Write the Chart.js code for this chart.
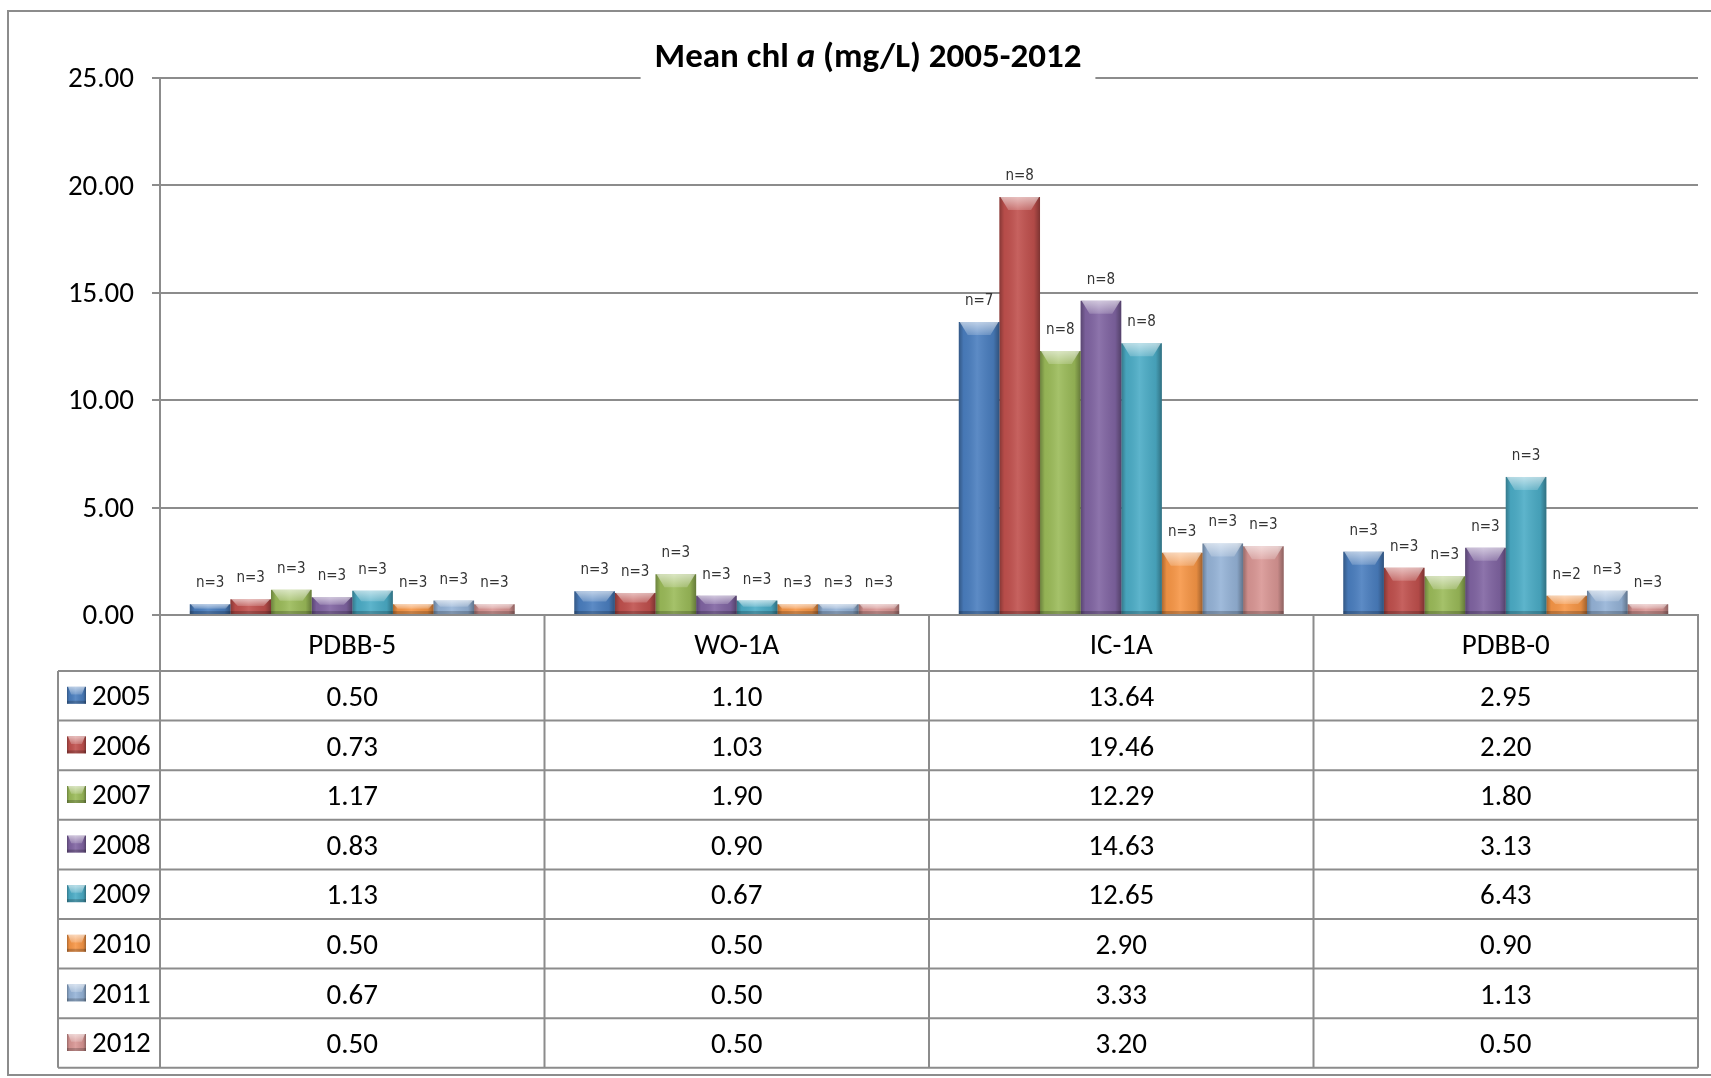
<!DOCTYPE html>
<html>
<head>
<meta charset="utf-8">
<title>Mean chl a (mg/L) 2005-2012</title>
<script src="https://cdn.jsdelivr.net/npm/chart.js@4.4.1/dist/chart.umd.min.js"></script>
<style>
  html, body { margin: 0; padding: 0; background: #fff; }
  canvas { display: block; }
</style>
</head>
<body>
<canvas id="chlChart" width="1711" height="1078"></canvas>
<script>
const categories = ['PDBB-5', 'WO-1A', 'IC-1A', 'PDBB-0'];
const years = ['2005', '2006', '2007', '2008', '2009', '2010', '2011', '2012'];

const chl2005 = [0.50, 1.10, 13.64, 2.95];
const chl2006 = [0.73, 1.03, 19.46, 2.20];
const chl2007 = [1.17, 1.90, 12.29, 1.80];
const chl2008 = [0.83, 0.90, 14.63, 3.13];
const chl2009 = [1.13, 0.67, 12.65, 6.43];
const chl2010 = [0.50, 0.50, 2.90, 0.90];
const chl2011 = [0.67, 0.50, 3.33, 1.13];
const chl2012 = [0.50, 0.50, 3.20, 0.50];

// sample counts shown above each bar
const n2005 = [3, 3, 7, 3];
const n2006 = [3, 3, 8, 3];
const n2007 = [3, 3, 8, 3];
const n2008 = [3, 3, 8, 3];
const n2009 = [3, 3, 8, 3];
const n2010 = [3, 3, 3, 2];
const n2011 = [3, 3, 3, 3];
const n2012 = [3, 3, 3, 3];

const yTicks = [0, 5, 10, 15, 20, 25];

const series = [chl2005, chl2006, chl2007, chl2008, chl2009, chl2010, chl2011, chl2012];
const counts = [n2005, n2006, n2007, n2008, n2009, n2010, n2011, n2012];
const colors = ['#4A7EBF', '#C0504D', '#9BBB59', '#8064A2', '#4BACC6', '#F79646', '#95B3D7', '#D99694'];

const FONT = 'Carlito, Lato, "Open Sans", sans-serif';
const GRID = '#8c8c8c';
const HEADER_H = 56;
const ROW_H = 49.6;
const TABLE_LEFT = 58;

// Excel-ish bevel on top of a flat rectangle
function bevel(ctx, left, top, w, h) {
    if (h <= 0) return;
    ctx.save();
    const g = ctx.createLinearGradient(left, 0, left + w, 0);
    g.addColorStop(0, 'rgba(0,0,0,0.30)');
    g.addColorStop(0.12, 'rgba(0,0,0,0.05)');
    g.addColorStop(0.45, 'rgba(255,255,255,0.10)');
    g.addColorStop(0.85, 'rgba(0,0,0,0.08)');
    g.addColorStop(1, 'rgba(0,0,0,0.35)');
    ctx.fillStyle = g;
    ctx.fillRect(left, top, w, h);
    const bh = Math.min(13, h * 0.45);
    const inset = Math.min(w * 0.22, bh * 1.1);
    const tg = ctx.createLinearGradient(0, top, 0, top + bh);
    tg.addColorStop(0, 'rgba(255,255,255,0.6)');
    tg.addColorStop(1, 'rgba(255,255,255,0.18)');
    ctx.fillStyle = tg;
    ctx.beginPath();
    ctx.moveTo(left + 1, top);
    ctx.lineTo(left + w - 1, top);
    ctx.lineTo(left + w - inset, top + bh);
    ctx.lineTo(left + inset, top + bh);
    ctx.closePath();
    ctx.fill();
    ctx.fillStyle = 'rgba(0,0,0,0.2)';
    ctx.fillRect(left, top + h - Math.min(3, h * 0.3), w, Math.min(3, h * 0.3));
    ctx.restore();
}

const barDecor = {
    id: 'barDecor',
    afterDatasetsDraw(chart) {
        const ctx = chart.ctx;
        chart.data.datasets.forEach((ds, di) => {
            const meta = chart.getDatasetMeta(di);
            meta.data.forEach((bar, i) => {
                const p = bar.getProps(['x', 'y', 'base', 'width'], true);
                bevel(ctx, p.x - p.width / 2, p.y, p.width, p.base - p.y);
                ctx.save();
                ctx.font = '15px "DejaVu Sans Condensed", "Liberation Sans Narrow", sans-serif';
                ctx.fillStyle = '#333';
                ctx.textAlign = 'center';
                ctx.textBaseline = 'alphabetic';
                ctx.fillText('n=' + counts[di][i], p.x, p.y - 17);
                ctx.restore();
            });
        });
    }
};

const dataTable = {
    id: 'dataTable',
    afterDraw(chart) {
        const ctx = chart.ctx;
        const x = chart.scales.x;
        const top = chart.chartArea.bottom;
        const colW = (x.right - x.left) / categories.length;
        const rowsTop = top + HEADER_H;
        const bottom = rowsTop + ROW_H * years.length;

        ctx.save();
        ctx.strokeStyle = GRID;
        ctx.lineWidth = 2;
        ctx.beginPath();
        for (let r = 0; r <= years.length; r++) {
            const yy = rowsTop + r * ROW_H;
            ctx.moveTo(TABLE_LEFT, yy);
            ctx.lineTo(x.right, yy);
        }
        ctx.moveTo(TABLE_LEFT, rowsTop);
        ctx.lineTo(TABLE_LEFT, bottom);
        for (let c = 0; c <= categories.length; c++) {
            const xx = x.left + c * colW;
            ctx.moveTo(xx, top);
            ctx.lineTo(xx, bottom);
        }
        ctx.stroke();

        ctx.font = '29px ' + FONT;
        ctx.fillStyle = '#000';
        ctx.textBaseline = 'middle';
        years.forEach((yr, r) => {
            const cy = rowsTop + r * ROW_H + ROW_H / 2;
            // legend key
            ctx.fillStyle = colors[r];
            ctx.fillRect(67, cy - 9, 19, 17);
            bevel(ctx, 67, cy - 9, 19, 17);
            ctx.fillStyle = '#000';
            ctx.textAlign = 'left';
            ctx.fillText(yr, 92, cy + 2);
            ctx.textAlign = 'center';
            series[r].forEach((v, c) => {
                ctx.fillText(v.toFixed(2), x.getPixelForValue(c), cy + 3);
            });
        });

        // outer frame
        ctx.strokeRect(8, 11, 1730, 1064);
        ctx.restore();
    }
};

const titleBox = {
    id: 'titleBox',
    afterDraw(chart) {
        const ctx = chart.ctx;
        const parts = [
            ['Mean chl ', 'bold 35px '],
            ['a', 'italic bold 35px '],
            [' (mg/L) 2005-2012', 'bold 35px ']
        ];
        ctx.save();
        let total = 0;
        parts.forEach(p => { ctx.font = p[1] + FONT; total += ctx.measureText(p[0]).width; });
        const cx = 868;
        ctx.fillStyle = '#fff';
        ctx.fillRect(cx - total / 2 - 14, 36, total + 28, 50);
        ctx.fillStyle = '#000';
        ctx.textBaseline = 'alphabetic';
        ctx.textAlign = 'left';
        let xx = cx - total / 2;
        parts.forEach(p => {
            ctx.font = p[1] + FONT;
            ctx.fillText(p[0], xx, 67);
            xx += ctx.measureText(p[0]).width;
        });
        ctx.restore();
    }
};

const ctx = document.getElementById('chlChart').getContext('2d');
new Chart(ctx, {
    type: 'bar',
    data: {
        labels: categories,
        datasets: years.map((yr, i) => ({
            label: yr,
            data: series[i],
            backgroundColor: colors[i],
            borderWidth: 0,
            categoryPercentage: 0.845,
            barPercentage: 1.0
        }))
    },
    options: {
        responsive: false,
        devicePixelRatio: 1,
        animation: false,
        layout: { padding: { left: 0, right: 13, top: 78, bottom: 1078 - 615 - HEADER_H } },
        plugins: { legend: { display: false }, title: { display: false }, tooltip: { enabled: false } },
        scales: {
            x: {
                grid: { display: false, drawTicks: false },
                border: { display: true, color: GRID, width: 2 },
                ticks: { font: { family: FONT, size: 29 }, color: '#000', padding: 14 },
                afterFit(s) { s.height = HEADER_H; }
            },
            y: {
                min: 0,
                max: 25,
                afterBuildTicks(s) { s.ticks = yTicks.map(v => ({ value: v })); },
                ticks: { font: { family: FONT, size: 29 }, color: '#000', padding: 18, labelOffset: 2, callback: v => v.toFixed(2) },
                grid: { color: GRID, lineWidth: 2, tickLength: 8 },
                border: { color: GRID, width: 2 },
                afterFit(s) { s.width = 160; }
            }
        }
    },
    plugins: [barDecor, dataTable, titleBox]
});
</script>
</body>
</html>
